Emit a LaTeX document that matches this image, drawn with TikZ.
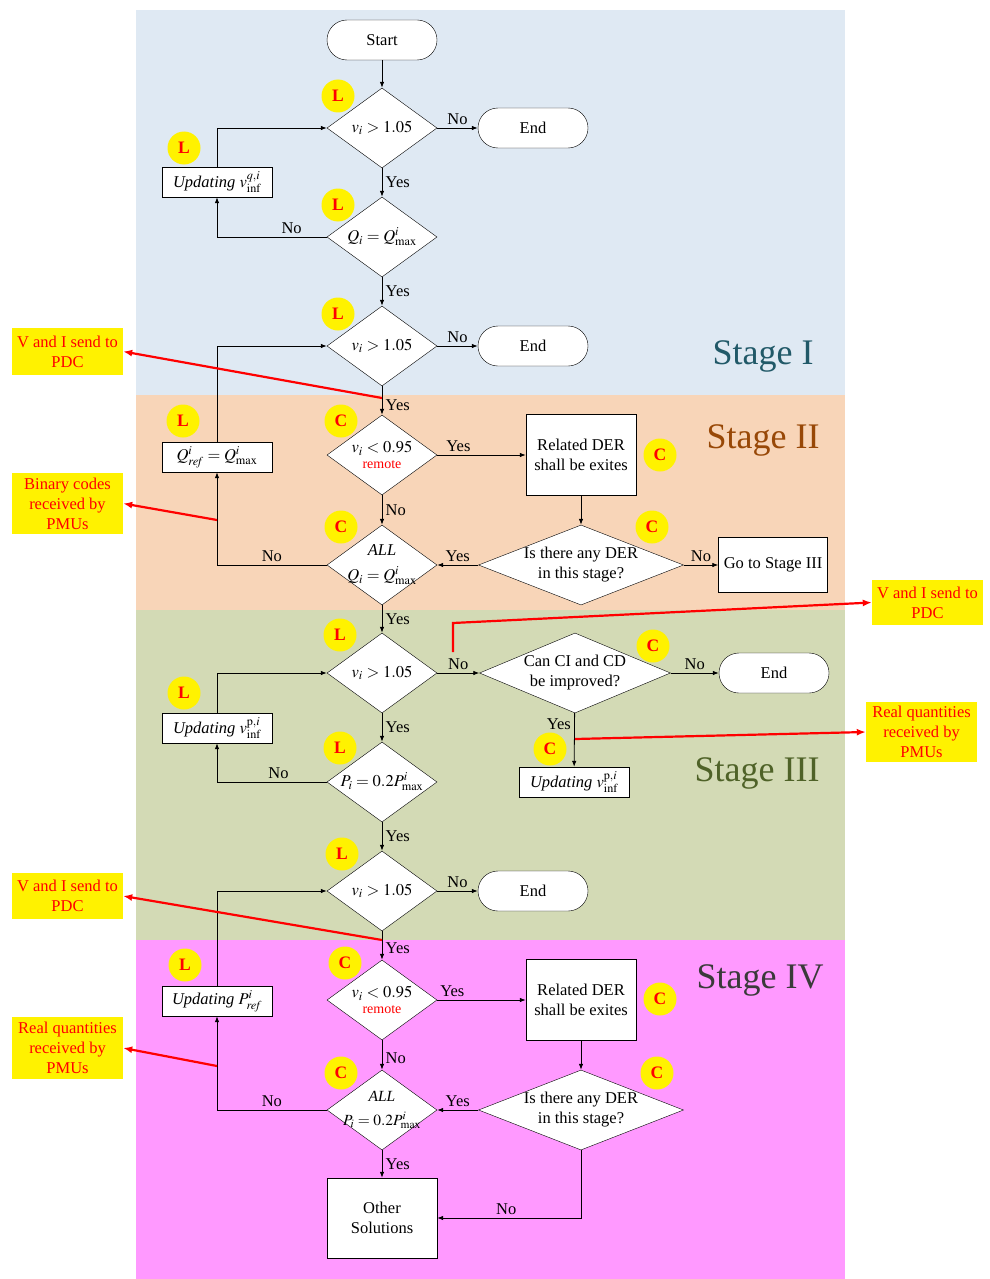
\documentclass[tikz,border=0pt]{standalone}
\usepackage{mathptmx}
\usepackage{fontspec}
\setmainfont{Liberation Serif}
\usetikzlibrary{shapes.geometric,arrows.meta}

\definecolor{stageone}{HTML}{DFE9F3}
\definecolor{stagetwo}{HTML}{F8D5B8}
\definecolor{stagethree}{HTML}{D3DAB5}
\definecolor{stagefour}{HTML}{FF99FF}
\definecolor{stageonetext}{HTML}{215968}
\definecolor{stagetwotext}{HTML}{984807}
\definecolor{stagethreetext}{HTML}{4F6228}
\definecolor{stagefourtext}{HTML}{3A3A3A}

\tikzset{
  every node/.style={font=\fontsize{16.5}{20}\selectfont},
  decision/.style={diamond, draw, fill=white, aspect=1.375, inner sep=-5pt,
    minimum width=110pt, minimum height=80pt, align=center},
  alldecision/.style={decision, inner sep=-9pt},
  bigdecision/.style={decision, aspect=2.5, minimum width=205pt},
  terminal/.style={draw, fill=white, rounded corners=20pt, minimum width=110pt, minimum height=40pt},
  process/.style={draw, fill=white, minimum width=110pt, minimum height=30pt, inner sep=2pt, align=center},
  tag/.style={circle, fill=yellow, minimum size=33pt, inner sep=0pt, text=red,
    font=\fontsize{17.5}{20}\selectfont\bfseries},
  note/.style={fill=yellow, text=red, minimum width=111pt, inner sep=2pt, align=center},
  stagename/.style={font=\fontsize{36}{40}\selectfont},
  flow/.style={-{Latex[length=6pt,width=4.5pt]}, line width=0.8pt},
  redarrow/.style={-{Latex[length=9pt,width=7pt]}, red, line width=2.2pt},
}
\newcommand{\remotetxt}{{\color{red}\fontsize{14}{14}\selectfont remote}}

\begin{document}
\begin{tikzpicture}[x=1pt,y=-1pt]
		%%%%% START %%%%%
		\useasboundingbox (0,0) rectangle (990,1279);
		
		\fill[stageone] (136,10) rectangle (845,395);
		\fill[stagetwo] (136,395) rectangle (845,610);
		\fill[stagethree] (136,610) rectangle (845,940);
		\fill[stagefour] (136,940) rectangle (845,1279);
		
		\node[stagename, text=stageonetext] (s1) at (763,356) {Stage I};
		\node[stagename, text=stagetwotext] (s2) at (763,440) {Stage II};
		\node[stagename, text=stagethreetext] (s3) at (757,773) {Stage III};
		\node[stagename, text=stagefourtext] (s4) at (760,980) {Stage IV};
		
		% stage I
		\node[terminal] (start) at (382,40) {Start};
		\node[decision] (d1) at (382,128) {$v_i > 1.05$};
		\node[terminal] (end1) at (533,128) {End};
		\node[process] (upd1) at (217,182) {\textit{Updating} $v_{\mathrm{inf}}^{q,i}$};
		\node[decision] (d2) at (382,237) {$Q_i = Q_{\max}^{i}$};
		\node[decision] (d3) at (382,346) {$v_i > 1.05$};
		\node[terminal] (end2) at (533,346) {End};
		
		% stage II
		\node[process] (qref) at (217,457) {$Q_{\mathit{ref}}^{i} = Q_{\max}^{i}$};
		\node[decision] (d4) at (382,455) {$v_i < 0.95$\\[-4pt]\remotetxt};
		\node[process, minimum height=81pt] (der1) at (581,455) {Related DER\\shall be exites};
		\node[alldecision] (d5) at (382,565) {\textit{ALL}\\[5pt]$Q_i = Q_{\max}^{i}$};
		\node[bigdecision] (d6) at (581,565) {Is there any DER\\in this stage?};
		\node[process, minimum width=109pt, minimum height=55pt] (go3) at (773,565) {Go to Stage III};
		
		% stage III
		\node[decision] (d7) at (382,673) {$v_i > 1.05$};
		\node[bigdecision, minimum width=191pt] (d8) at (575,673) {Can CI and CD\\be improved?};
		\node[terminal] (end3) at (774,673) {End};
		\node[process] (upd2) at (217,728) {\textit{Updating} $v_{\mathrm{inf}}^{\mathrm{p},i}$};
		\node[decision] (d9) at (382,782) {$P_i = 0.2P_{\max}^{i}$};
		\node[process] (upd3) at (574,782) {\textit{Updating} $v_{\mathrm{inf}}^{\mathrm{p},i}$};
		\node[decision] (d10) at (382,891) {$v_i > 1.05$};
		\node[terminal] (end4) at (533,891) {End};
		
		% stage IV
		\node[process] (upd4) at (217,1001) {\textit{Updating} $P_{\mathit{ref}}^{i}$};
		\node[decision] (d11) at (382,1000) {$v_i < 0.95$\\[-4pt]\remotetxt};
		\node[process, minimum height=81pt] (der2) at (581,1000) {Related DER\\shall be exites};
		\node[alldecision, font=\fontsize{15.5}{19}\selectfont] (d12) at (382,1110) {\textit{ALL}\\[5pt]$P_i = 0.2P_{\max}^{i}$};
		\node[bigdecision] (d13) at (581,1110) {Is there any DER\\in this stage?};
		\node[process, minimum height=80pt] (other) at (382,1218) {Other\\Solutions};
		
		% connectors
		\draw[flow] (start) -- (d1);
		\draw[flow] (d1) -- node[above] {No} (end1);
		\draw[flow] (d1) -- node[right] {Yes} (d2);
		\draw[flow] (d2.west) -| node[pos=0.16, above] {No} (upd1.south);
		\draw[flow] (upd1.north) |- (d1.west);
		\draw[flow] (d2) -- node[right] {Yes} (d3);
		\draw[flow] (d3) -- node[above] {No} (end2);
		\draw[flow] (d3) -- node[pos=0.65, right] {Yes} (d4);
		\draw[flow] (d4) -- node[pos=0.24, above] {Yes} (der1);
		\draw[flow] (d4) -- node[right] {No} (d5);
		\draw[flow] (der1) -- (d6);
		\draw[flow] (d6) -- node[above] {Yes} (d5);
		\draw[flow] (d6) -- node[above] {No} (go3);
		\draw[flow] (d5.west) -| node[pos=0.25, above] {No} (qref.south);
		\draw[flow] (qref.north) |- (d3.west);
		\draw[flow] (d5) -- node[right] {Yes} (d7);
		\draw[flow] (d7) -- node[above] {No} (d8);
		\draw[flow] (d8) -- node[above] {No} (end3);
		\draw[flow] (d8) -- node[pos=0.2, left] {Yes} (upd3);
		\draw[flow] (d7) -- node[right] {Yes} (d9);
		\draw[flow] (d9.west) -| node[pos=0.22, above] {No} (upd2.south);
		\draw[flow] (upd2.north) |- (d7.west);
		\draw[flow] (d9) -- node[right] {Yes} (d10);
		\draw[flow] (d10) -- node[above] {No} (end4);
		\draw[flow] (d10) -- node[pos=0.6, right] {Yes} (d11);
		\draw[flow] (d11) -- node[pos=0.17, above] {Yes} (der2);
		\draw[flow] (d11) -- node[pos=0.6, right] {No} (d12);
		\draw[flow] (der2) -- (d13);
		\draw[flow] (d13) -- node[above] {Yes} (d12);
		\draw[flow] (d12.west) -| node[pos=0.25, above] {No} (upd4.south);
		\draw[flow] (upd4.north) |- (d10.west);
		\draw[flow] (d12) -- node[right] {Yes} (other);
		\draw[flow] (d13.south) |- node[pos=0.76, above] {No} (other.east);
		
		% local / central tags
		\node[tag] (t1) at (338,96) {L};
		\node[tag] (t2) at (184,148) {L};
		\node[tag] (t3) at (338,205) {L};
		\node[tag] (t4) at (338,314) {L};
		\node[tag] (t5) at (183,421) {L};
		\node[tag] (t6) at (341,421) {C};
		\node[tag] (t7) at (660,455) {C};
		\node[tag] (t8) at (341,527) {C};
		\node[tag] (t9) at (652,527) {C};
		\node[tag] (t10) at (340,635) {L};
		\node[tag] (t11) at (653,646) {C};
		\node[tag] (t12) at (184,693) {L};
		\node[tag] (t13) at (340,748) {L};
		\node[tag] (t14) at (550,749) {C};
		\node[tag] (t15) at (342,854) {L};
		\node[tag] (t16) at (345,963) {C};
		\node[tag] (t17) at (185,965) {L};
		\node[tag] (t18) at (660,999) {C};
		\node[tag] (t19) at (341,1073) {C};
		\node[tag] (t20) at (657,1073) {C};
		
		% notes
		\node[note, minimum height=47pt] (a1) at (67.5,351.5) {V and I send to\\PDC};
		\node[note, minimum height=61pt] (a2) at (67.5,503.5) {Binary codes\\received by\\PMUs};
		\node[note, minimum height=45pt] (a3) at (927.5,602.5) {V and I send to\\PDC};
		\node[note, minimum height=60pt] (a4) at (921.5,732) {Real quantities\\received by\\PMUs};
		\node[note, minimum height=46pt] (a5) at (67.5,896) {V and I send to\\PDC};
		\node[note, minimum height=62pt] (a6) at (67.5,1048) {Real quantities\\received by\\PMUs};
		
		\coordinate (r1) at (382,398);
		\coordinate (r2) at (217,520);
		\coordinate (r3) at (453,652);
		\coordinate (r3b) at (453,623);
		\coordinate (r4) at (575,739);
		\coordinate (r5) at (382,940);
		\coordinate (r6) at (217,1066);
		\draw[redarrow] (r1) -- (a1.east);
		\draw[redarrow] (r2) -- (a2.east);
		\draw[redarrow] (r3) -- (r3b) -- (a3.west);
		\draw[redarrow] (r4) -- (a4.west);
		\draw[redarrow] (r5) -- (a5.east);
		\draw[redarrow] (r6) -- (a6.east);
		
		%%%%% END %%%%%
	\end{tikzpicture}
\end{document}
